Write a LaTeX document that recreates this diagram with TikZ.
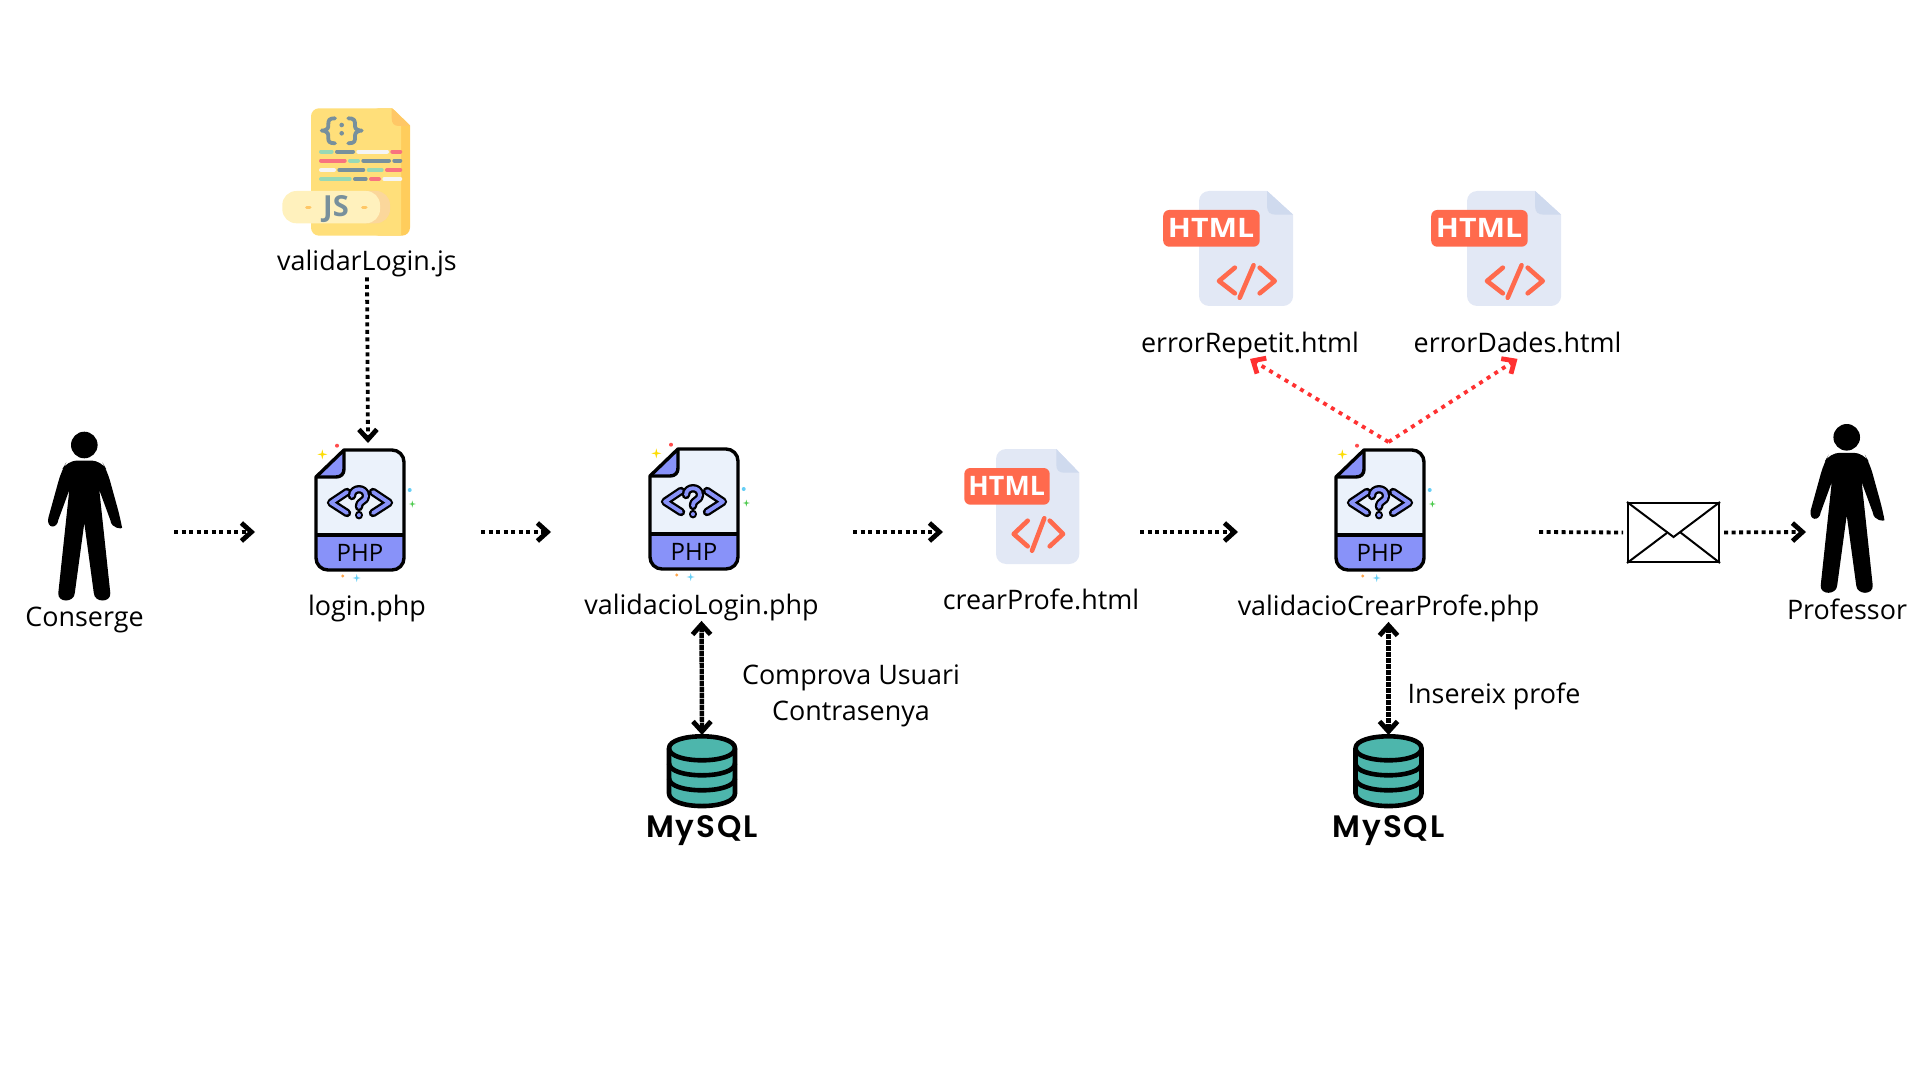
\documentclass[tikz,border=0pt]{standalone}
\usepackage{fontspec}
\setmainfont{Open Sans}
\newfontfamily\mysqlfont[LetterSpace=6]{Poppins SemiBold}
\usetikzlibrary{arrows.meta}
\definecolor{phpbody}{HTML}{EBF2FB}
\definecolor{phpband}{HTML}{8892F9}
\definecolor{htmlpage}{HTML}{E2E8F5}
\definecolor{htmlfold}{HTML}{CFDAEE}
\definecolor{htmlred}{HTML}{FF6A4D}
\definecolor{jspage}{HTML}{FFDF7A}
\definecolor{jsside}{HTML}{FFCD5C}
\definecolor{jsfold}{HTML}{FFC766}
\definecolor{jsbadge}{HTML}{FFF1BD}
\definecolor{jsshade}{HTML}{FBD79B}
\definecolor{jsgrey}{HTML}{78909C}
\definecolor{jsmint}{HTML}{98D9B5}
\definecolor{jsred}{HTML}{F8737F}
\definecolor{jswhite}{HTML}{F5F5F5}
\definecolor{dbteal}{HTML}{4DB6AC}
\definecolor{alertred}{HTML}{FF3131}
\tikzset{
FLOW/.style={draw=black,line width=1.9pt,dash pattern=on 2pt off 1.75pt},
FLOWTIP/.style={-{Straight Barb[length=5pt,width=9pt,line width=2.4pt]}},
FLOWBOTH/.style={{Straight Barb[length=5pt,width=9pt,line width=2.4pt]}-{Straight Barb[length=5pt,width=9pt,line width=2.4pt]},line width=2.2pt,dash pattern=on 2.6pt off 0.4pt},
ALERT/.style={FLOW,FLOWTIP,draw=alertred,dash pattern=on 2pt off 2.5pt},
SPAN/.style={inner sep=0pt,outer sep=0pt},
LABEL/.style={font=\fontsize{13.45}{18}\selectfont,inner sep=1pt,align=center},
ROWLABEL/.style={LABEL,text height=13pt,text depth=2pt},
ENVELOPE/.style={draw=black,line width=1pt,minimum width=45.5pt,minimum height=29.5pt,inner sep=0pt},
htmllift/.store in=\htmlcodelift,htmllift=0,
person/.pic={
	\fill (0,0) circle (13.3);
	\fill[rounded corners=5] (-17,15.5) -- (17,15.5) -- (23,26) -- (36,73)
		[sharp corners] .. controls (38,84) and (27,84) .. (26,75) -- (15,45) -- (26,148)
		.. controls (27,158) and (10,158) .. (9.5,148) -- (0,78) -- (-9.5,148)
		.. controls (-10,158) and (-27,158) .. (-26,148) -- (-15,45) -- (-26,75)
		.. controls (-27,84) and (-38,84) .. (-36,73) [rounded corners=5] -- (-23,26) -- cycle;
},
phpfile/.pic={
	%Sparkles
	\foreach \x/\y/\r/\c in {6.3/4.3/5/yellow!80!orange,96.3/54/3.5/green!70!black!70,40.7/128/4/cyan!60}
		\fill[\c] (\x,\y) +(\r,0) -- +(.2*\r,.2*\r) -- +(0,\r) -- +(-.2*\r,.2*\r) -- +(-\r,0)
			-- +(-.2*\r,-.2*\r) -- +(0,-\r) -- +(.2*\r,-.2*\r) -- cycle;
	\foreach \x/\y/\r/\c in {21/-4.3/2/red!70!white,93.7/40/2/cyan!60,26.7/126/1.7/orange!70}
		\fill[\c] (\x,\y) circle (\r);
	%Sheet
	\fill[phpbody] (28,0) [rounded corners=6] -- (88,0) -- (88,120) -- (0,120) [sharp corners] -- (0,27) -- cycle;
	\fill[phpband] (0,85) -- (88,85) [rounded corners=6] -- (88,120) -- (0,120) [sharp corners] -- (0,85) -- cycle;
	\fill[phpband] (28,0) -- (28,19) .. controls (28,24) and (25,27) .. (20,27) -- (0,27) -- cycle;
	\draw[line width=1.7pt,line join=round] (0,85) -- (88,85);
	\draw[line width=1.7pt,line join=round] (28,0) -- (28,19) .. controls (28,24) and (25,27) .. (20,27) -- (0,27);
	\draw[line width=1.7pt,line join=round] (28,0) [rounded corners=6] -- (88,0) -- (88,120) -- (0,120) [sharp corners] -- (0,27) -- cycle;
	%Code sign
	\foreach \w/\c in {4.2pt/black,1.9pt/phpband}{
		\draw[line width=\w,\c,line cap=round,line join=round] (31,42) -- (15,52.7) -- (31,63);
		\draw[line width=\w,\c,line cap=round,line join=round] (57,42) -- (73,52.7) -- (57,63);
		\draw[line width=\w,\c,line cap=round,line join=round] (36,46) .. controls (36,37) and (50,37) .. (50,46)
			.. controls (50,52) and (43,50) .. (43,57);
		\draw[line width=\w,\c,line cap=round] (43,65) -- (43,65.2);
	}
	\node[font=\fontsize{12}{12}\selectfont,inner sep=0pt] (-text) at (44,103) {PHP};
},
htmlfile/.pic={
	\fill[htmlpage] (60.3,0) -- (83.3,23.7) [rounded corners=5] -- (83.3,115) -- (0,115) -- (0,0) [sharp corners] -- cycle;
	\fill[htmlfold] (60.3,0) -- (83.3,23.7) -- (68,23.7) .. controls (63,23.7) and (60.3,21) .. (60.3,16) -- cycle;
	\fill[htmlred,rounded corners=3] (-31.7,19) rectangle (53.7,55.7);
	\node[font=\fontsize{13.4}{13.4}\bfseries\selectfont,white,inner sep=0pt,transform shape] (-text) at (10.7,36.8) {HTML};
	\begin{scope}[shift={(0,\htmlcodelift)}]
		\draw[htmlred,line width=2.3pt,line cap=round,line join=round] (31.7,71.7) -- (17.7,85) -- (31.7,97.3);
		\draw[htmlred,line width=2.3pt,line cap=round,line join=round] (53.7,71.7) -- (67,85) -- (53.7,97.3);
		\draw[htmlred,line width=2.3pt,line cap=round] (48.3,69.3) -- (36,101.7);
	\end{scope}
},
jsfile/.pic={
	\fill[jsside,rounded corners=4] (60,0) rectangle (99,127.4);
	\fill[white] (80.7,-1) -- (100,-1) -- (100,17.7) -- cycle;
	\fill[jspage] (80.7,0) -- (90,17.7) -- (90,127.4) [rounded corners=4] -- (0,127.4) -- (0,0) [sharp corners] -- cycle;
	\fill[jsfold] (80.7,0) -- (99,17.7) -- (88,17.7) .. controls (83,17.7) and (80.7,15) .. (80.7,10) -- cycle;
	%Braces
	\draw[jsgrey,line width=1.9pt,line cap=round,line join=round] (24,10) .. controls (18,10) and (17.3,12) .. (17.3,16) -- (17.3,18)
		.. controls (17.3,21) and (14,22.3) .. (10.7,22.3) .. controls (14,22.3) and (17.3,24) .. (17.3,27) -- (17.3,30)
		.. controls (17.3,33) and (18,35) .. (24,35);
	\draw[jsgrey,line width=1.9pt,line cap=round,line join=round] (37.3,10) .. controls (43.3,10) and (44,12) .. (44,16) -- (44,18)
		.. controls (44,21) and (47.3,22.3) .. (50.7,22.3) .. controls (47.3,22.3) and (44,24) .. (44,27) -- (44,30)
		.. controls (44,33) and (43.3,35) .. (37.3,35);
	\fill[jsgrey] (30.7,16.7) circle (2.3) (30.7,25) circle (2.3);
	%Code rows
	\foreach \y/\a/\b/\c in {43.3/10/20.7/jsmint,43.3/26/42/jsgrey,43.3/47.3/76/jswhite,43.3/81.3/89.3/jsred,
		52.3/10/33.7/jsred,52.3/39/47/jsmint,52.3/52.3/78/jsgrey,52.3/83.3/89.3/jsgrey,
		61.7/10/23/jswhite,61.7/28.3/52.3/jsgrey,61.7/57.7/70.7/jsmint,61.7/76/89.3/jsred,
		70.7/10/38.7/jsmint,70.7/44/54.7/jsgrey,70.7/60/68/jsred,70.7/73.3/89.3/jswhite}
		\draw[\c,line width=2pt,line cap=round] (\a,\y) -- (\b,\y);
	%Badge
	\fill[jsshade,rounded corners=7] (40,82.7) rectangle (79,115);
	\fill[jsbadge,rounded corners=7] (-28.7,82.7) rectangle (69,115);
	\node[font=\fontsize{14.5}{14}\bfseries\selectfont,jsgrey,inner sep=0pt] (-text) at (25,101) {JS};
	\draw[jsfold,line width=1.5pt,line cap=round] (-4.5,99) -- (-1,99);
	\draw[jsfold,line width=1.5pt,line cap=round] (51.5,99) -- (55,99);
},
mysqldb/.pic={
	\path[fill=dbteal] (-33,0) -- (-33,45) .. controls (-33,62) and (33,62) .. (33,45) -- (33,0) .. controls (33,-16) and (-33,-16) .. (-33,0) -- cycle;
	\draw[line width=2.3pt,line join=round] (-33,0) -- (-33,45) .. controls (-33,62) and (33,62) .. (33,45) -- (33,0) .. controls (33,-16) and (-33,-16) .. (-33,0) -- cycle;
	\foreach \y in {0,15,30}
		\draw[line width=2.3pt] (-33,\y) .. controls (-33,\y+16) and (33,\y+16) .. (33,\y);
	\node[font=\fontsize{15.5}{16}\mysqlfont,inner sep=0pt] (-text) at (0,82.5) {MySQL};
},
}
\begin{document}
\begin{tikzpicture}[x=0.5pt,y=-0.5pt]
	\useasboundingbox (0,0) rectangle (1920,1080);
	%Icons
	\pic (iconConserge) at (84.3,445) {person};
	\pic (iconProfessor) at (1846.7,437.3) {person};
	\pic (iconJs) at (311,108.3) {jsfile};
	\pic (iconLogin) at (316,450) {phpfile};
	\pic (iconValidacio) at (650,449) {phpfile};
	\pic (iconCrear) at (1336,450) {phpfile};
	\pic (iconHtml) at (996,449) {htmlfile};
	\pic[xscale=1.13,htmllift=5] (iconRepetit) at (1199,191) {htmlfile};
	\pic[xscale=1.13,htmllift=5] (iconDades) at (1467,191) {htmlfile};
	\pic[htmllift=0] (dbLogin) at (702,748.3) {mysqldb};
	\pic (dbCrear) at (1388.5,748.3) {mysqldb};
	%Labels
	\node[ROWLABEL] (labelConserge) at (84.5,615.5) {Conserge};
	\node[ROWLABEL] (labelProfessor) at (1847,608.5) {Professor};
	\node[ROWLABEL] (labelJs) at (367,260) {validarLogin.js};
	\node[ROWLABEL] (labelLogin) at (367,604.5) {login.php};
	\node[ROWLABEL] (labelValidacio) at (701.5,603.5) {validacioLogin.php};
	\node[ROWLABEL] (labelHtml) at (1041,598) {crearProfe.html};
	\node[ROWLABEL] (labelCrear) at (1388.5,604.5) {validacioCrearProfe.php};
	\node[ROWLABEL] (labelRepetit) at (1250,341.5) {errorRepetit.html};
	\node[ROWLABEL] (labelDades) at (1517.5,341.5) {errorDades.html};
	\node[LABEL] (labelComprova) at (851,695.7) {Comprova Usuari\\Contrasenya};
	\node[ROWLABEL] (labelInsereix) at (1494,692.5) {Insereix profe};
	%Row of the flow
	\node[SPAN,minimum width=87pt,minimum height=60pt] (spanConserge) at (87,532) {};
	\node[SPAN,minimum width=113pt,minimum height=89pt] (spanLogin) at (368,532) {};
	\node[SPAN,minimum width=151pt,minimum height=60pt] (spanValidacio) at (702,532) {};
	\node[SPAN,minimum width=98.5pt,minimum height=60pt] (spanHtml) at (1041.5,532) {};
	\node[SPAN,minimum width=150.5pt,minimum height=90pt] (spanCrear) at (1388.5,532) {};
	\node[SPAN,minimum width=57pt,minimum height=60pt] (spanProfessor) at (1863,532) {};
	\node[SPAN,minimum width=36pt,minimum height=50pt] (spanDbLogin) at (702,785) {};
	\node[SPAN,minimum width=36pt,minimum height=50pt] (spanDbCrear) at (1388.5,785) {};
	\node[ENVELOPE] (sobre) at (1673.5,532.5) {};
	\draw[line width=1pt] (sobre.north west) -- ([yshift=-17.5pt]sobre.north) -- (sobre.north east);
	\draw[line width=1pt] (sobre.south west) -- ([xshift=-3.4pt,yshift=-0.3pt]sobre.center);
	\draw[line width=1pt] (sobre.south east) -- ([xshift=3.5pt,yshift=0pt]sobre.center);
	%Connectors
	\path[FLOW,FLOWTIP] (spanConserge.east) -- (spanLogin.west);
	\path[FLOW,FLOWTIP] (spanLogin.east) -- (spanValidacio.west);
	\path[FLOW,FLOWTIP] (spanValidacio.east) -- (spanHtml.west);
	\path[FLOW,FLOWTIP] (spanHtml.east) -- (spanCrear.west);
	\path[FLOW,shorten >=2pt] (spanCrear.east) -- (sobre.west);
	\path[FLOW,FLOWTIP,shorten <=2pt] (sobre.east) -- (spanProfessor.west);
	\path[FLOW,FLOWTIP] (labelJs.south) -- (spanLogin.north);
	\path[FLOW,FLOWBOTH] (labelValidacio.south) -- (spanDbLogin.north);
	\path[FLOW,FLOWBOTH] (labelCrear.south) -- (spanDbCrear.north);
	\path[ALERT] (spanCrear.north) -- (labelRepetit.south);
	\path[ALERT] (spanCrear.north) -- (labelDades.south);
\end{tikzpicture}
\end{document}
